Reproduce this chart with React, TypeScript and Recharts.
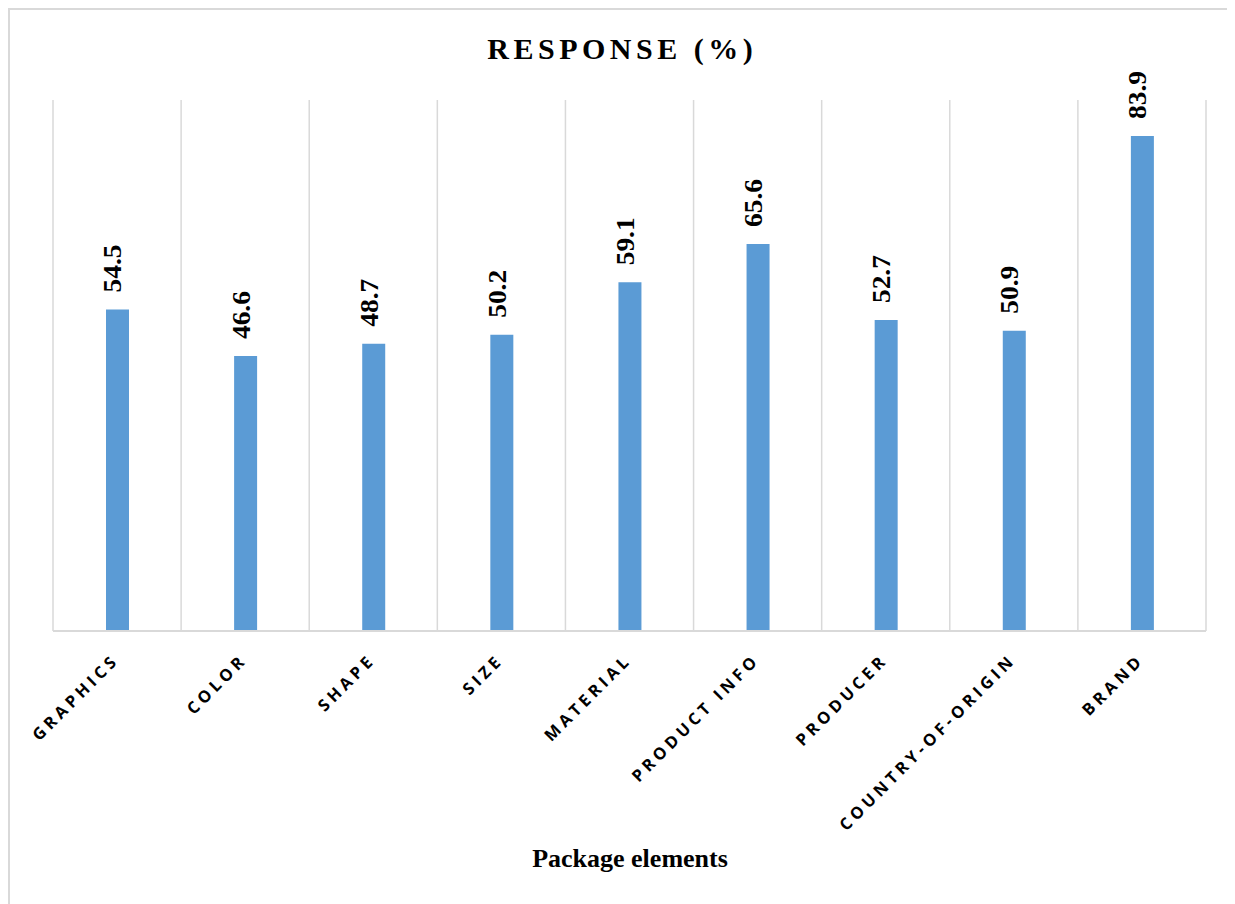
import React from "react";
import { BarChart, Bar, XAxis, YAxis, CartesianGrid, LabelList } from "recharts";

const categories = [
  "GRAPHICS",
  "COLOR",
  "SHAPE",
  "SIZE",
  "MATERIAL",
  "PRODUCT INFO",
  "PRODUCER",
  "COUNTRY-OF-ORIGIN",
  "BRAND",
];
const responses = [54.5, 46.6, 48.7, 50.2, 59.1, 65.6, 52.7, 50.9, 83.9];

const chartData = categories.map((name, i) => ({ name, value: responses[i] }));

const SERIF = "'Liberation Serif', 'Times New Roman', serif";
const SANS = "'Open Sans', 'Noto Sans', sans-serif";
const GRID = "#d9d9d9";

// rotated category label, anchored at its end just under the axis
function CategoryTick(props: any) {
  const { x, y, payload } = props;
  const ax = x + 3;
  const ay = y + 22;
  return (
    <text
      x={ax}
      y={ay}
      transform={`rotate(-45, ${ax}, ${ay})`}
      textAnchor="end"
      fontFamily={SANS}
      fontWeight={700}
      fontSize={16.5}
      letterSpacing={4}
      fill="#000"
    >
      {payload.value}
    </text>
  );
}

// value label, rotated to read bottom-to-top above each bar
function ValueLabel(props: any) {
  const { x, y, width, value } = props;
  const lx = x + width / 2 + 4;
  const ly = y - 17;
  return (
    <text
      x={lx}
      y={ly}
      transform={`rotate(-90, ${lx}, ${ly})`}
      textAnchor="start"
      fontFamily={SERIF}
      fontWeight={700}
      fontSize={25}
      textLength={48}
      lengthAdjust="spacingAndGlyphs"
      fill="#000"
    >
      {value.toFixed(1)}
    </text>
  );
}

export default function App() {
  const width = 1222;
  const height = 900;
  return (
    <div
      style={{
        position: "relative",
        width,
        height,
        border: `2px solid ${GRID}`,
        background: "#fff",
      }}
    >
      <style>{`html, body { overflow: hidden; }`}</style>
      <div
        style={{
          position: "absolute",
          left: 0,
          top: 24,
          width: 1220,
          textAlign: "center",
          fontFamily: SERIF,
          fontWeight: 700,
          fontSize: 30,
          lineHeight: "30px",
          letterSpacing: 4.5,
          paddingLeft: 4.5,
          boxSizing: "border-box",
        }}
      >
        RESPONSE (%)
      </div>
      <BarChart
        width={width}
        height={height}
        data={chartData}
        margin={{ top: 90, right: 26, left: 43, bottom: 219 }}
      >
        <CartesianGrid
          horizontal={false}
          stroke={GRID}
          strokeWidth={1.5}
          verticalCoordinatesGenerator={({ offset }: any) =>
            Array.from(
              { length: categories.length + 1 },
              (_, i) => offset.left + (i * offset.width) / categories.length
            )
          }
        />
        <XAxis
          dataKey="name"
          interval={0}
          height={60}
          tickLine={false}
          axisLine={{ stroke: GRID, strokeWidth: 2 }}
          tick={<CategoryTick />}
        />
        <YAxis hide domain={[0, 90]} />
        <Bar
          dataKey="value"
          fill="#5b9bd5"
          barSize={23}
          isAnimationActive={false}
        >
          <LabelList dataKey="value" content={<ValueLabel />} />
        </Bar>
      </BarChart>
      <div
        style={{
          position: "absolute",
          left: 0,
          top: 836,
          width: 1240,
          textAlign: "center",
          fontFamily: SERIF,
          fontWeight: 700,
          fontSize: 26,
          lineHeight: "26px",
        }}
      >
        Package elements
      </div>
    </div>
  );
}
